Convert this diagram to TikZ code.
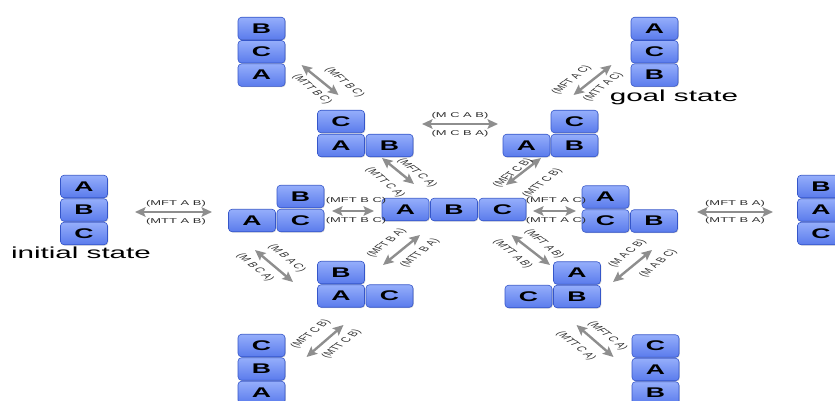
\documentclass[tikz,border=0pt]{standalone}
\usepackage{fontspec}
\setmainfont{Liberation Sans}
\usepackage{graphicx}
\usetikzlibrary{arrows.meta,shadows}
\definecolor{blktop}{HTML}{95AEFB}
\definecolor{blkbot}{HTML}{5A7BEC}
\definecolor{blkedge}{HTML}{3556C9}
\definecolor{arrgray}{HTML}{8E8E8E}
\definecolor{lblgray}{HTML}{2E2E2E}
\newcommand{\widetext}[1]{\scalebox{1.9}[1]{#1}}

\begin{document}
\begin{tikzpicture}[x=1pt,y=-1pt,
  blk/.style={draw=blkedge, line width=0.6pt, top color=blktop, bottom color=blkbot,
    rounded corners=3.5pt, minimum width=47pt, minimum height=22.5pt, inner sep=0pt,
    font=\fontsize{14}{15}\bfseries\selectfont,
    drop shadow={opacity=0.35, shadow xshift=0.8pt, shadow yshift=-0.8pt}},
  lbl/.style={font=\fontsize{7}{8}\selectfont, text=lblgray, inner sep=0pt, xscale=1.85},
  dn/.style={lbl, rotate=-56},
  up/.style={lbl, rotate=56},
  caption/.style={font=\fontsize{16}{18}\selectfont, inner sep=0pt, anchor=base, xscale=1.85},
  arr/.style={draw=arrgray, line width=2.4pt,
    arrows={Stealth[length=10.5pt,width=9.5pt,inset=2pt]-Stealth[length=10.5pt,width=9.5pt,inset=2pt]}}
]
\useasboundingbox (0,0) rectangle (835,401);
\clip (0,0) rectangle (835,401);

% ---- block configurations ----
% B on C on A (top left)
\node[blk] (tlB) at (261.5,28.5) {\widetext{B}};
\node[blk] (tlC) at (261.5,51.8) {\widetext{C}};
\node[blk] (tlA) at (261.5,75.1) {\widetext{A}};
% A on C on B (goal)
\node[blk] (gA) at (654.5,28.5) {\widetext{A}};
\node[blk] (gC) at (654.5,51.8) {\widetext{C}};
\node[blk] (gB) at (654.5,75.1) {\widetext{B}};
% C on A, B alone
\node[blk] (p1C) at (341,121.5) {\widetext{C}};
\node[blk] (p1A) at (341,145.5) {\widetext{A}};
\node[blk] (p1B) at (389.5,145.5) {\widetext{B}};
% A alone, C on B
\node[blk] (p2A) at (526.5,145.5) {\widetext{A}};
\node[blk] (p2C) at (574.5,121.5) {\widetext{C}};
\node[blk] (p2B) at (574.5,145.5) {\widetext{B}};
% all on the table
\node[blk] (rA) at (405.5,209.5) {\widetext{A}};
\node[blk] (rB) at (454,209.5) {\widetext{B}};
\node[blk] (rC) at (502.5,209.5) {\widetext{C}};
% A alone, B on C
\node[blk] (p3A) at (252,220.5) {\widetext{A}};
\node[blk] (p3B) at (300.5,196.5) {\widetext{B}};
\node[blk] (p3C) at (300.5,220.5) {\widetext{C}};
% A on C, B alone
\node[blk] (p4A) at (605.5,197) {\widetext{A}};
\node[blk] (p4C) at (605.5,221) {\widetext{C}};
\node[blk] (p4B) at (654,221) {\widetext{B}};
% A on B on C (initial)
\node[blk] (iA) at (84,186.5) {\widetext{A}};
\node[blk] (iB) at (84,210) {\widetext{B}};
\node[blk] (iC) at (84,233.5) {\widetext{C}};
% B on A on C
\node[blk] (srB) at (821,186.5) {\widetext{B}};
\node[blk] (srA) at (821,210) {\widetext{A}};
\node[blk] (srC) at (821,233.5) {\widetext{C}};
% B on A, C alone
\node[blk] (p5B) at (341,272.5) {\widetext{B}};
\node[blk] (p5A) at (341,296) {\widetext{A}};
\node[blk] (p5C) at (389.5,296) {\widetext{C}};
% A on B, C alone
\node[blk] (p6A) at (577,273) {\widetext{A}};
\node[blk] (p6C) at (528.5,296.5) {\widetext{C}};
\node[blk] (p6B) at (577,296.5) {\widetext{B}};
% C on B on A
\node[blk] (blC) at (261.5,345.5) {\widetext{C}};
\node[blk] (blB) at (261.5,369) {\widetext{B}};
\node[blk] (blA) at (261.5,392.5) {\widetext{A}};
% C on A on B
\node[blk] (brC) at (655.5,346) {\widetext{C}};
\node[blk] (brA) at (655.5,369.5) {\widetext{A}};
\node[blk] (brB) at (655.5,393) {\widetext{B}};

% ---- captions ----
\node[caption] (initcap) at (81,258) {initial state};
\node[caption] (goalcap) at (674,101.5) {goal state};

% ---- arrow end points ----
\coordinate (h1a) at (135,212);   \coordinate (h1b) at (212,212);
\coordinate (h2a) at (332,211);   \coordinate (h2b) at (374,211);
\coordinate (h3a) at (533,211);   \coordinate (h3b) at (576,211);
\coordinate (h4a) at (697,212);   \coordinate (h4b) at (773,212);
\coordinate (h5a) at (422,124);   \coordinate (h5b) at (498,124);
\coordinate (da1) at (301.5,65);  \coordinate (da2) at (338.5,95);
\coordinate (db1) at (382,158);   \coordinate (db2) at (414,184);
\coordinate (dc1) at (506,185);   \coordinate (dc2) at (541,158);
\coordinate (dd1) at (573.5,95);  \coordinate (dd2) at (611.5,65);
\coordinate (de1) at (255,250);   \coordinate (de2) at (293,282);
\coordinate (df1) at (420,235);   \coordinate (df2) at (383,265);
\coordinate (dg1) at (511.5,235); \coordinate (dg2) at (550,265);
\coordinate (dh1) at (613,282);   \coordinate (dh2) at (652,250);
\coordinate (di1) at (306.5,357); \coordinate (di2) at (343.5,325);
\coordinate (dj1) at (576.5,325); \coordinate (dj2) at (613.5,357);

% ---- moves ----
\draw[arr] (h1a) -- (h1b);
\draw[arr] (h2a) -- (h2b);
\draw[arr] (h3a) -- (h3b);
\draw[arr] (h4a) -- (h4b);
\draw[arr] (h5a) -- (h5b);
\draw[arr] (da1) -- (da2);
\draw[arr] (db1) -- (db2);
\draw[arr] (dc1) -- (dc2);
\draw[arr] (dd1) -- (dd2);
\draw[arr] (de1) -- (de2);
\draw[arr] (df1) -- (df2);
\draw[arr] (dg1) -- (dg2);
\draw[arr] (dh1) -- (dh2);
\draw[arr] (di1) -- (di2);
\draw[arr] (dj1) -- (dj2);

% ---- move labels ----
\node[lbl] (l1a) at (176,203.5) {(MFT A B)};
\node[lbl] (l1b) at (176,222) {(MTT A B)};
\node[lbl] (l2a) at (356,201) {(MFT B C)};
\node[lbl] (l2b) at (356,221) {(MTT B C)};
\node[lbl] (l3a) at (556,201) {(MFT A C)};
\node[lbl] (l3b) at (556,221) {(MTT A C)};
\node[lbl] (l4a) at (735,204) {(MFT B A)};
\node[lbl] (l4b) at (735,221) {(MTT B A)};
\node[lbl] (l5a) at (460,115.5) {(M C A B)};
\node[lbl] (l5b) at (460,134) {(M C B A)};

\node[dn] (laa) at (344.5,82.5) {(MFT B C)};
\node[dn] (lab) at (312,89.5) {(MTT B C)};
\node[dn] (lba) at (417,173) {(MFT C A)};
\node[dn] (lbb) at (385,182.5) {(MTT C A)};
\node[up] (lca) at (513,173) {(MFT C B)};
\node[up] (lcb) at (542.5,183) {(MTT C B)};
\node[up] (lda) at (571.7,80) {(MFT A C)};
\node[up] (ldb) at (603.3,86.7) {(MTT A C)};
\node[dn] (lea) at (286.7,258.3) {(M B A C)};
\node[dn] (leb) at (255,267.5) {(M B C A)};
\node[up] (lfa) at (386.7,243.3) {(MFT B A)};
\node[up] (lfb) at (420,253.3) {(MTT B A)};
\node[dn] (lga) at (544,244) {(MFT A B)};
\node[dn] (lgb) at (512.5,254) {(MTT A B)};
\node[up] (lha) at (627.5,253.3) {(M A C B)};
\node[up] (lhb) at (658.3,263.3) {(M A B C)};
\node[up] (lia) at (310.8,334.2) {(MFT C B)};
\node[up] (lib) at (341.7,344.2) {(MTT C B)};
\node[dn] (lja) at (607.5,335.8) {(MFT C A)};
\node[dn] (ljb) at (575.8,345.8) {(MTT C A)};
\end{tikzpicture}
\end{document}
